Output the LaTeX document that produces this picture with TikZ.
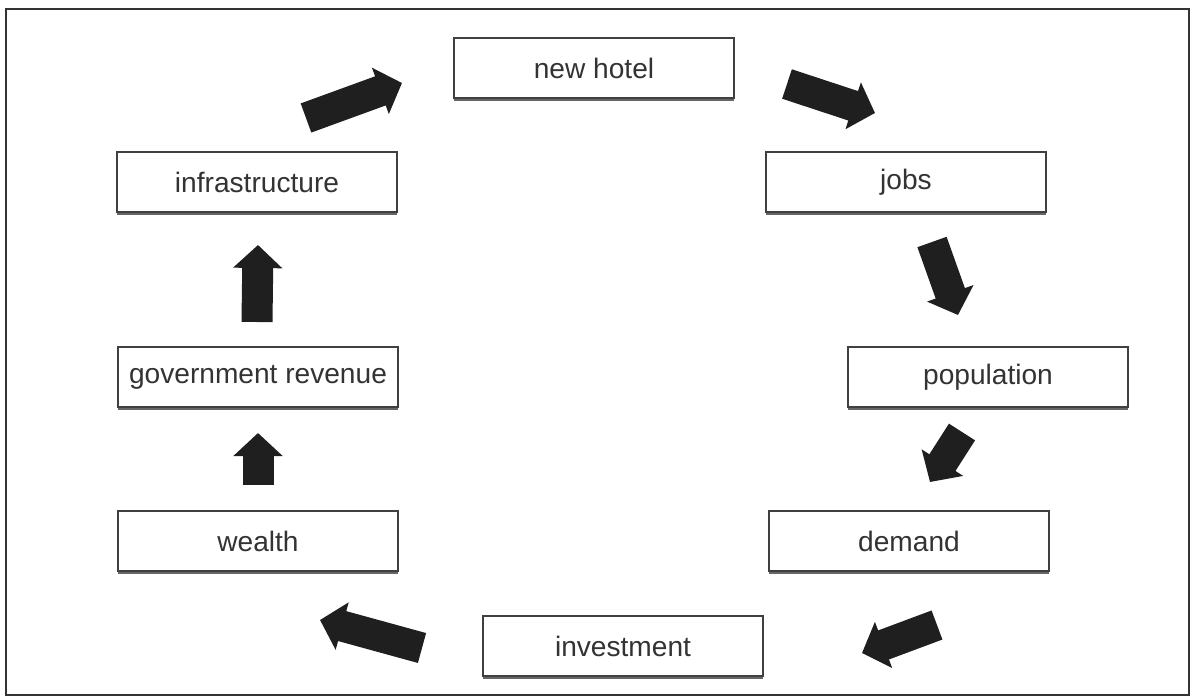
\documentclass[tikz,border=0pt]{standalone}
\usepackage{fontspec}
\setmainfont{Liberation Sans}
\usepackage{tikz}
\usetikzlibrary{arrows.meta}
\usetikzlibrary{shadows}
\usetikzlibrary{positioning}

\begin{document}
\begin{tikzpicture}[thick,
    box node/.style={rectangle,draw=black!75,line width=0.9pt,fill=white,
      minimum width=5.6cm,minimum height=1.2cm,text=black!80,
      font=\fontsize{16}{19}\selectfont,
      drop shadow={shadow xshift=0pt,shadow yshift=-1.8pt,fill=black!60,opacity=1}},
    big arrow/.style={draw=black!88,line width=0.62cm,
      -{Triangle[length=0.46cm,width=0.96cm]}}]
    \useasboundingbox (0,0) rectangle (23.84,13.96);
    \draw[line width=1.6pt,black!80] (0.12,13.78) rectangle (23.78,0.06);
    \begin{scope}
      \node[box node] (hotel) at (11.88,12.60) {new hotel};
      \node[box node] (jobs) at (18.12,10.32) {jobs};
      \node[box node] (pop) at (19.76,6.42) {population};
      \node[box node] (demand) at (18.18,3.14) {demand};
      \node[box node] (invest) at (12.46,1.04) {investment};
      \node[box node] (wealth) at (5.16,3.14) {wealth};
      \node[box node] (gov) at (5.16,6.42) {government revenue};
      \node[box node] (infra) at (5.14,10.32) {infrastructure};
%     tails and tips of the block arrows
      \coordinate (t1) at (6.12,11.60);  \coordinate (h1) at (8.04,12.30);
      \coordinate (t2) at (15.74,12.28); \coordinate (h2) at (17.50,11.70);
      \coordinate (t3) at (18.64,9.12);  \coordinate (h3) at (19.16,7.66);
      \coordinate (t4) at (19.24,5.32);  \coordinate (h4) at (18.60,4.32);
      \coordinate (t5) at (18.74,1.46);  \coordinate (h5) at (17.24,0.90);
      \coordinate (t6) at (8.44,1.00);   \coordinate (h6) at (6.40,1.56);
      \coordinate (t7) at (5.16,4.26);   \coordinate (h7) at (5.16,5.30);
      \coordinate (t8) at (5.14,7.52);   \coordinate (h8) at (5.16,9.06);
      \draw[big arrow] (t1) -- (h1);
      \draw[big arrow] (t2) -- (h2);
      \draw[big arrow] (t3) -- (h3);
      \draw[big arrow] (t4) -- (h4);
      \draw[big arrow] (t5) -- (h5);
      \draw[big arrow] (t6) -- (h6);
      \draw[big arrow] (t7) -- (h7);
      \draw[big arrow] (t8) -- (h8);
    \end{scope}
  \end{tikzpicture}
\end{document}
